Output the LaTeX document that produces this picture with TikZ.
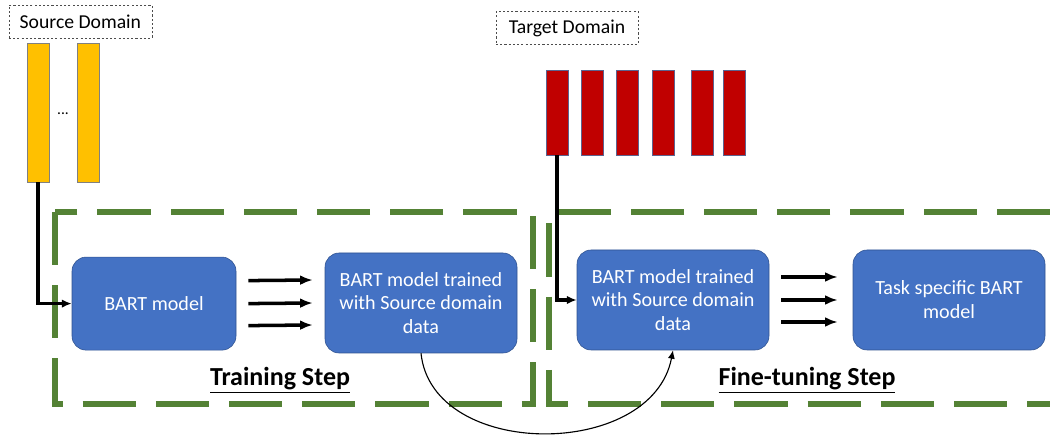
\documentclass[tikz,border=0pt]{standalone}
\usepackage{fontspec}
\setmainfont{Carlito}
\usetikzlibrary{positioning,arrows.meta}
\definecolor{boxblue}{HTML}{4472C4}
\definecolor{boxedge}{HTML}{2F528F}
\definecolor{frameg}{HTML}{548235}
\definecolor{srcyel}{HTML}{FFC000}
\definecolor{tgtred}{HTML}{C00000}
\definecolor{tgtedge}{HTML}{5B6490}
\begin{document}
\begin{tikzpicture}[
	bartbox/.style={draw=boxedge,fill=boxblue,rounded corners=10pt,text=white,align=center,minimum width=4.8cm,minimum height=2.5cm,font=\fontsize{14.3}{17}\selectfont},
	domlabel/.style={draw=black!70,dash pattern=on 1.5pt off 1.5pt,thin,minimum height=0.82cm,font=\fontsize{14}{16}\selectfont},
	srcbar/.style={draw=gray,fill=srcyel,minimum width=0.55cm,minimum height=3.475cm,inner sep=0pt},
	tgtbar/.style={draw=tgtedge,fill=tgtred,minimum width=0.55cm,minimum height=2.125cm,inner sep=0pt},
	stepframe/.style={frameg,line width=4.2pt,dash pattern=on 1.33cm off 0.5cm},
	steplabel/.style={font=\fontsize{18.5}{21}\selectfont\bfseries},
	feed/.style={line width=2.5pt,-{Latex[length=9pt,width=7pt]}}]
	\useasboundingbox (0,0) rectangle (26.25,-10.925);
	% domains
	\node[domlabel,minimum width=3.575cm] (srcdom) at (2.01,-0.54) {Source Domain};
	\node[domlabel,minimum width=3.55cm] (tgtdom) at (14.175,-0.7) {Target Domain};
	% source data
	\node[srcbar] (src1) at (0.95,-2.81) {};
	\node[srcbar] (src2) at (2.2,-2.81) {};
	\node[font=\fontsize{11}{13}\selectfont] (dots) at (1.575,-2.85) {...};
	% target data
	\foreach \x [count=\i] in {13.925,14.8,15.675,16.59,17.55,18.36}
		\node[tgtbar] (tgt\i) at (\x,-2.81) {};
	% step frames
	\draw[stepframe] (1.375,-5.3) rectangle (13.325,-10.1);
	\draw[stepframe] (26.25,-5.3) -- (13.725,-5.3) -- (13.725,-10.1) -- (26.25,-10.1);
	% models
	\node[bartbox,minimum width=4.1cm,minimum height=2.325cm] (bart) at (3.85,-7.59) {BART model};
	\node[bartbox] (trained) at (10.525,-7.575) {BART model trained\\with Source domain\\data};
	\node[bartbox] (reused) at (16.825,-7.5) {BART model trained\\with Source domain\\data};
	\node[bartbox] (task) at (23.725,-7.5) {Task specific BART\\model};
	\node[steplabel] (trainlbl) at (7.0,-9.5) {\underline{Training Step}};
	\node[steplabel] (finelbl) at (20.175,-9.5) {\underline{Fine-tuning Step}};
	% data in
	\draw[feed,-{Latex[length=7pt,width=6pt]}] (src1.south) |- (bart.west);
	\draw[feed,-{Latex[length=7pt,width=6pt]}] (tgt1.south) |- (reused.west);
	% triple arrows
	\foreach \dy in {0.575,0,-0.55} {
		\draw[feed] ([xshift=3mm,yshift=\dy cm]bart.east) -- ([xshift=-3mm,yshift=\dy cm]trained.west);
		\draw[feed] ([xshift=3mm,yshift=\dy cm]reused.east) -- ([xshift=-3.75mm,yshift=\dy cm]task.west);
	}
	% model hand-over
	\draw[thick,-{Latex[length=6pt,width=5pt]}] (trained.south) .. controls (10.8,-11.5) and (16.3,-11.5) .. (reused.south);
\end{tikzpicture}
\end{document}
